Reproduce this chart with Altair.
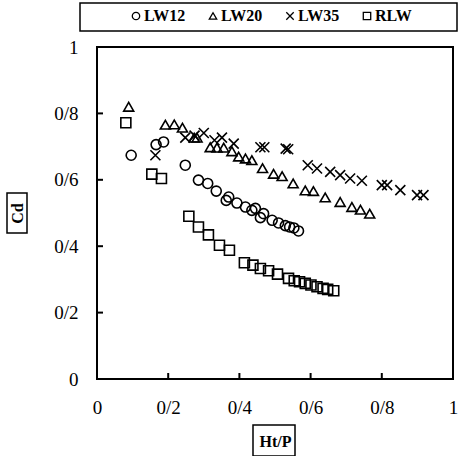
import altair as alt
import pandas as pd

# ---- data ----
series_names = ["LW12", "LW20", "LW35", "RLW"]

lw12_x = [0.096, 0.166, 0.187, 0.248, 0.285, 0.311, 0.335, 0.363, 0.370, 0.393, 0.417,
          0.435, 0.445, 0.459, 0.468, 0.492, 0.510, 0.529, 0.541, 0.553, 0.566]
lw12_y = [0.674, 0.706, 0.714, 0.644, 0.599, 0.589, 0.566, 0.538, 0.548, 0.530, 0.518,
          0.508, 0.514, 0.486, 0.498, 0.478, 0.470, 0.462, 0.458, 0.455, 0.446]

lw20_x = [0.089, 0.192, 0.217, 0.240, 0.273, 0.281, 0.318, 0.337, 0.356, 0.379, 0.398,
          0.417, 0.435, 0.465, 0.496, 0.520, 0.551, 0.585, 0.608, 0.641, 0.683, 0.716,
          0.740, 0.766]
lw20_y = [0.820, 0.766, 0.767, 0.757, 0.727, 0.727, 0.698, 0.697, 0.697, 0.686, 0.670,
          0.664, 0.659, 0.635, 0.618, 0.611, 0.589, 0.568, 0.566, 0.547, 0.533, 0.518,
          0.510, 0.498]

lw35_x = [0.164, 0.248, 0.274, 0.300, 0.330, 0.351, 0.384, 0.459, 0.470, 0.530, 0.537,
          0.592, 0.618, 0.655, 0.683, 0.711, 0.744, 0.800, 0.815, 0.852, 0.899, 0.917]
lw35_y = [0.674, 0.727, 0.733, 0.741, 0.719, 0.727, 0.709, 0.698, 0.698, 0.694, 0.692,
          0.644, 0.634, 0.624, 0.614, 0.604, 0.597, 0.584, 0.584, 0.569, 0.554, 0.554]

rlw_x = [0.081, 0.154, 0.181, 0.258, 0.285, 0.313, 0.344, 0.372, 0.414, 0.438, 0.459,
         0.482, 0.507, 0.538, 0.554, 0.569, 0.585, 0.601, 0.618, 0.635, 0.648, 0.665]
rlw_y = [0.772, 0.617, 0.604, 0.490, 0.458, 0.434, 0.403, 0.388, 0.350, 0.343, 0.333,
         0.326, 0.316, 0.303, 0.296, 0.293, 0.288, 0.283, 0.278, 0.273, 0.270, 0.266]

axis_vals = [0, 0.2, 0.4, 0.6, 0.8, 1]
inner_ticks = [0.2, 0.4, 0.6, 0.8]

rows = []
for name, xs, ys in zip(series_names, [lw12_x, lw20_x, lw35_x, rlw_x],
                        [lw12_y, lw20_y, lw35_y, rlw_y]):
    for a, b in zip(xs, ys):
        rows.append({"series": name, "htp": a, "cd": b})
df = pd.DataFrame(rows)
ticks_df = pd.DataFrame({"v": inner_ticks})
one = pd.DataFrame({"k": [0]})

# ---- styling ----
W, H = 356, 332
FONT = "Liberation Serif"
shapes = ["circle", "triangle-up", "M-1,-1L1,1M1,-1L-1,1", "square"]
lab = "replace(format(datum.value, '~g'), '.', '/')"

xscale = alt.Scale(domain=[0, 1], nice=False)
yscale = alt.Scale(domain=[0, 1], nice=False)

x_axis = alt.Axis(values=axis_vals, labelExpr=lab, ticks=False, domain=False, grid=False,
                  labelFlush=False, labelOverlap=False, labelPadding=19,
                  labelFont=FONT, labelFontSize=19, labelColor="black",
                  title="Ht/P", titleFont=FONT, titleFontSize=16, titleFontWeight="bold",
                  titleColor="black", titleX=W / 2, titleY=62, titleAlign="center",
                  titleBaseline="middle")
y_axis = alt.Axis(values=axis_vals, labelExpr=lab, ticks=False, domain=False, grid=False,
                  labelFlush=False, labelOverlap=False, labelPadding=19,
                  labelFont=FONT, labelFontSize=19, labelColor="black",
                  title="Cd", titleFont=FONT, titleFontSize=16, titleFontWeight="bold",
                  titleColor="black", titleX=-80, titleY=H / 2, titleAngle=270,
                  titleAlign="center", titleBaseline="middle")

points = alt.Chart(df).mark_point(filled=False, color="black", strokeWidth=1.6,
                                  opacity=1, size=100).encode(
    x=alt.X("htp:Q", scale=xscale, axis=x_axis),
    y=alt.Y("cd:Q", scale=yscale, axis=y_axis),
    shape=alt.Shape("series:N", scale=alt.Scale(domain=series_names, range=shapes),
                    legend=alt.Legend(orient="none", legendX=31, legendY=-39,
                                      direction="horizontal", title=None,
                                      labelFont=FONT, labelFontSize=16,
                                      labelFontWeight="bold", labelColor="black",
                                      symbolSize=55, symbolStrokeColor="black",
                                      symbolStrokeWidth=1.3, symbolFillColor="white",
                                      symbolType="circle",
                                      labelOffset=0, columnPadding=19, padding=0)),
)

xticks = alt.Chart(ticks_df).mark_rule(color="black", strokeWidth=2).encode(
    x=alt.X("v:Q", scale=xscale), y=alt.value(H), y2=alt.value(H - 6))
yticks = alt.Chart(ticks_df).mark_rule(color="black", strokeWidth=2).encode(
    y=alt.Y("v:Q", scale=yscale), x=alt.value(0), x2=alt.value(6))

legend_box = alt.Chart(one).mark_rect(fillOpacity=0, stroke="black", strokeWidth=1.5,
                                      clip=False).encode(
    x=alt.value(-17), x2=alt.value(360), y=alt.value(-44), y2=alt.value(-16))
cd_box = alt.Chart(one).mark_rect(fillOpacity=0, stroke="black", strokeWidth=1.5,
                                  clip=False).encode(
    x=alt.value(-90), x2=alt.value(-70), y=alt.value(146), y2=alt.value(186))
htp_box = alt.Chart(one).mark_rect(fillOpacity=0, stroke="black", strokeWidth=1.5,
                                   clip=False).encode(
    x=alt.value(W / 2 - 22), x2=alt.value(W / 2 + 20), y=alt.value(H + 46),
    y2=alt.value(H + 77))

chart = alt.layer(xticks, yticks, points, legend_box, cd_box, htp_box).properties(
    width=W, height=H,
    autosize=alt.AutoSizeParams(type="none"),
    padding={"left": 97, "top": 47, "right": 5, "bottom": 77},
    background="white",
).configure_view(stroke="black", strokeWidth=2)

chart.save("out.html", embed_options={"renderer": "svg", "actions": False})
